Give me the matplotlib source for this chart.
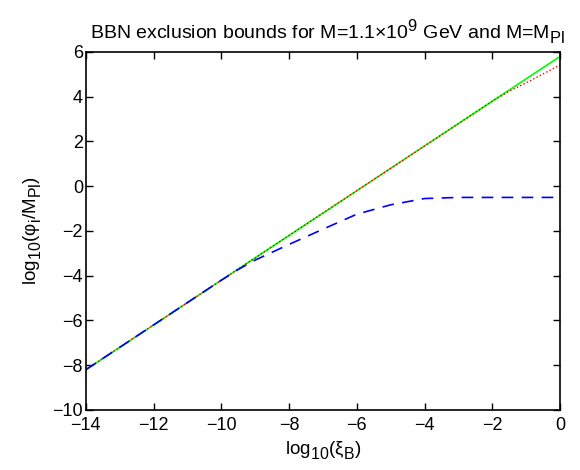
import numpy as np
import matplotlib
matplotlib.use("Agg")
import matplotlib.pyplot as plt
import matplotlib._mathtext as mt

plt.rcParams['font.family'] = ['Liberation Sans', 'DejaVu Sans']
plt.rcParams['mathtext.fontset'] = 'custom'
plt.rcParams['mathtext.rm'] = 'Liberation Sans'
plt.rcParams['mathtext.it'] = 'Liberation Sans:italic'
plt.rcParams['mathtext.sf'] = 'Liberation Sans'
# MATLAB draws sub/superscripts nearly full size and drops subscripts lower
mt.SHRINK_FACTOR = 0.85
mt.FontConstantsBase.sub1 = 0.55

# data
green_x = [-14, 0]
green_y = [-8.2, 5.8]

red_x = [-14, -2, -1.5, -1, -0.5, 0]
red_y = [-8.2, 3.8, 4.25, 4.62, 5.02, 5.42]

blue_x = [-14, -10, -9.5, -9, -8, -7, -6, -5, -4, -3, -2, -1, 0]
blue_y = [-8.2, -4.2, -3.72, -3.3, -2.6, -1.92, -1.25, -0.83, -0.55, -0.5, -0.5, -0.5, -0.5]

xticks = [-14, -12, -10, -8, -6, -4, -2, 0]
yticks = [-10, -8, -6, -4, -2, 0, 2, 4, 6]

fig = plt.figure(figsize=(5.8, 4.7), dpi=100)
ax = fig.add_axes([0.148, 0.1277, 0.8176, 0.7617])

ax.plot(green_x, green_y, '-', color=(0, 1, 0), lw=1.2)
ax.plot(red_x, red_y, ':', color=(1, 0, 0), lw=1.0)
ax.plot(blue_x, blue_y, '--', color=(0, 0, 1), lw=1.2, dashes=(7, 5))

ax.set_xlim(-14, 0)
ax.set_ylim(-10, 6)
ax.set_xticks(xticks)
ax.set_yticks(yticks)
ax.set_xticklabels(['\u2212%d' % -v if v < 0 else '%d' % v for v in xticks])
ax.set_yticklabels(['\u2212%d' % -v if v < 0 else '%d' % v for v in yticks])
ax.tick_params(direction='in', top=True, right=True, labelsize=13, length=5, width=1)
ax.tick_params(axis='x', pad=5)
ax.tick_params(axis='y', pad=2)
for s in ax.spines.values():
    s.set_linewidth(1.2)

ax.set_title(r'BBN exclusion bounds for M=1.1$\times$10$^{9}$ GeV and M=M$_{\rm Pl}$',
             fontsize=14, pad=10, x=0.51)
ax.set_xlabel(r'log$_{10}$(ξ$_{\rm B}$)', fontsize=13.5, labelpad=4)
ax.set_ylabel(r'log$_{10}$(φ$_{\rm i}$/M$_{\rm Pl}$)', fontsize=13.5, labelpad=6)

fig.savefig('out.png', dpi=100)
